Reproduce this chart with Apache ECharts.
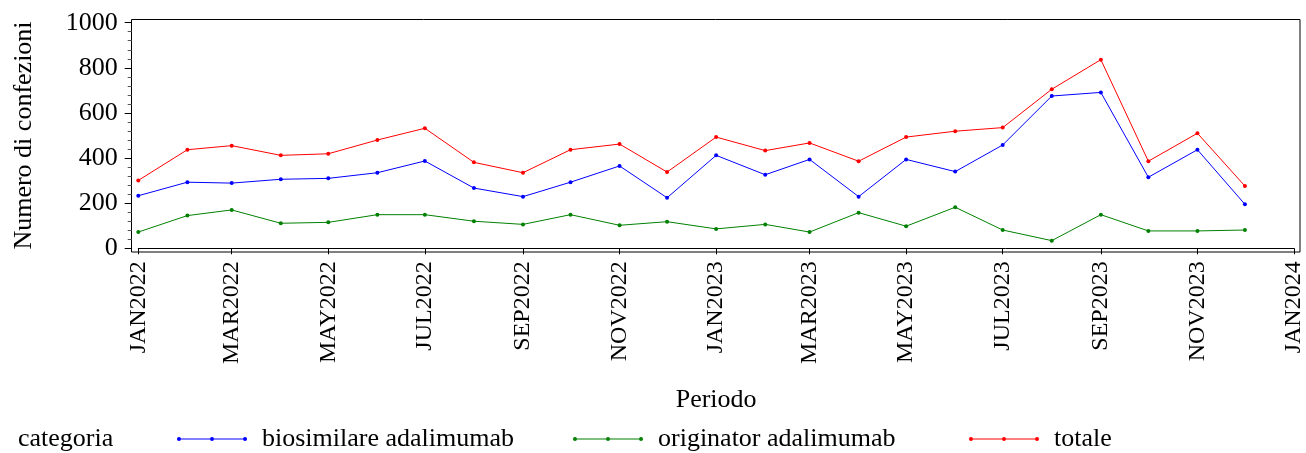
<!DOCTYPE html>
<html>
<head>
<meta charset="utf-8">
<script src="https://cdn.jsdelivr.net/npm/echarts@6/dist/echarts.min.js"></script>
<style>
  html, body { margin: 0; padding: 0; background: #fff; }
  #chart { width: 1306px; height: 453px; }
</style>
</head>
<body>
<div id="chart"></div>
<script>
// mesi (primo giorno del mese)
const months = [
  '2022-01-01', '2022-02-01', '2022-03-01', '2022-04-01', '2022-05-01', '2022-06-01',
  '2022-07-01', '2022-08-01', '2022-09-01', '2022-10-01', '2022-11-01', '2022-12-01',
  '2023-01-01', '2023-02-01', '2023-03-01', '2023-04-01', '2023-05-01', '2023-06-01',
  '2023-07-01', '2023-08-01', '2023-09-01', '2023-10-01', '2023-11-01', '2023-12-01'
]
const biosimilare = [233, 293, 289, 306, 310, 335, 387, 267, 229, 293, 365, 224,
                     412, 326, 394, 229, 394, 340, 458, 675, 691, 315, 437, 195]
const originator = [72, 145, 170, 111, 115, 149, 149, 120, 106, 149, 102, 118,
                    86, 106, 72, 158, 98, 182, 81, 34, 149, 77, 77, 81]
const totale = [301, 437, 455, 412, 419, 480, 532, 381, 335, 437, 462, 338,
                493, 433, 467, 386, 493, 519, 535, 705, 836, 386, 510, 276]
const tickDates = ['2022-01-01', '2022-03-01', '2022-05-01', '2022-07-01', '2022-09-01', '2022-11-01',
                   '2023-01-01', '2023-03-01', '2023-05-01', '2023-07-01', '2023-09-01', '2023-11-01',
                   '2024-01-01']
const monthNames = ['JAN', 'FEB', 'MAR', 'APR', 'MAY', 'JUN', 'JUL', 'AUG', 'SEP', 'OCT', 'NOV', 'DEC']

const FONT = '"Liberation Serif", "Times New Roman", serif'

// giorni come timestamp UTC
const toTime = s => {
  const p = s.split('-').map(Number)
  return Date.UTC(p[0], p[1] - 1, p[2])
}
const tickValues = tickDates.map(toTime)
const pairs = arr => months.map((m, i) => [toTime(m), arr[i]])

const legendIcon = 'path://M0,3.5L70,3.5L70,4.5L0,4.5Z' +
  'M0,4a2,2 0 1,1 4,0a2,2 0 1,1 -4,0Z' +
  'M33,4a2,2 0 1,1 4,0a2,2 0 1,1 -4,0Z' +
  'M66,4a2,2 0 1,1 4,0a2,2 0 1,1 -4,0Z'

const legendBase = {
  top: 421,
  icon: legendIcon,
  itemWidth: 70,
  itemHeight: 4,
  textStyle: { fontFamily: FONT, fontSize: 26, color: '#000', padding: [0, 0, 0, 10] }
}

const mkSeries = (name, arr, color) => ({
  name: name,
  type: 'line',
  data: pairs(arr),
  symbol: 'circle',
  symbolSize: 4,
  showSymbol: true,
  lineStyle: { color: color, width: 1 },
  itemStyle: { color: color },
  emphasis: { disabled: true }
})

const myChart = echarts.init(document.getElementById('chart'))
myChart.setOption({
  animation: false,
  grid: { left: 138.3, right: 11.7, top: 22.7, bottom: 204.7 },
  graphic: [
    {
      type: 'rect',
      shape: { x: 131.5, y: 19.5, width: 1168.5, height: 232.5 },
      style: { fill: 'none', stroke: '#000', lineWidth: 1 },
      silent: true
    },
    {
      type: 'text',
      left: 18,
      top: 426,
      style: { text: 'categoria', font: '26px ' + FONT, fill: '#000' }
    }
  ],
  legend: [
    Object.assign({ left: 172, data: ['biosimilare adalimumab'] }, legendBase),
    Object.assign({ left: 568, data: ['originator adalimumab'] }, legendBase),
    Object.assign({ left: 964, data: ['totale'] }, legendBase)
  ],
  xAxis: {
    type: 'value',
    min: toTime('2022-01-01'),
    max: toTime('2024-01-01'),
    offset: 4,
    name: 'Periodo',
    nameLocation: 'middle',
    nameGap: 135,
    nameTextStyle: { fontFamily: FONT, fontSize: 26, color: '#000' },
    axisLine: { show: true, lineStyle: { color: '#000', width: 1 } },
    axisTick: { show: true, length: 6, customValues: tickValues, lineStyle: { color: '#000' } },
    axisLabel: {
      customValues: tickValues,
      rotate: 90,
      margin: 9,
      fontFamily: FONT,
      fontSize: 24,
      color: '#000',
      hideOverlap: false,
      formatter: v => {
        const d = new Date(v)
        return monthNames[d.getUTCMonth()] + d.getUTCFullYear()
      }
    },
    splitLine: { show: false }
  },
  yAxis: {
    type: 'value',
    min: 0,
    max: 1000,
    interval: 200,
    offset: 6.6,
    name: 'Numero di confezioni',
    nameLocation: 'middle',
    nameGap: 95,
    nameTextStyle: { fontFamily: FONT, fontSize: 26, color: '#000' },
    axisLine: { show: true, lineStyle: { color: '#000', width: 1 } },
    axisTick: { show: true, length: 7, lineStyle: { color: '#000' } },
    minorTick: { show: true, splitNumber: 5, length: 4, lineStyle: { color: '#555' } },
    axisLabel: { margin: 14, fontFamily: FONT, fontSize: 26, color: '#000', formatter: v => String(v) },
    splitLine: { show: false }
  },
  series: [
    mkSeries('biosimilare adalimumab', biosimilare, '#0000ff'),
    mkSeries('originator adalimumab', originator, '#008000'),
    mkSeries('totale', totale, '#ff0000')
  ]
})
</script>
</body>
</html>
